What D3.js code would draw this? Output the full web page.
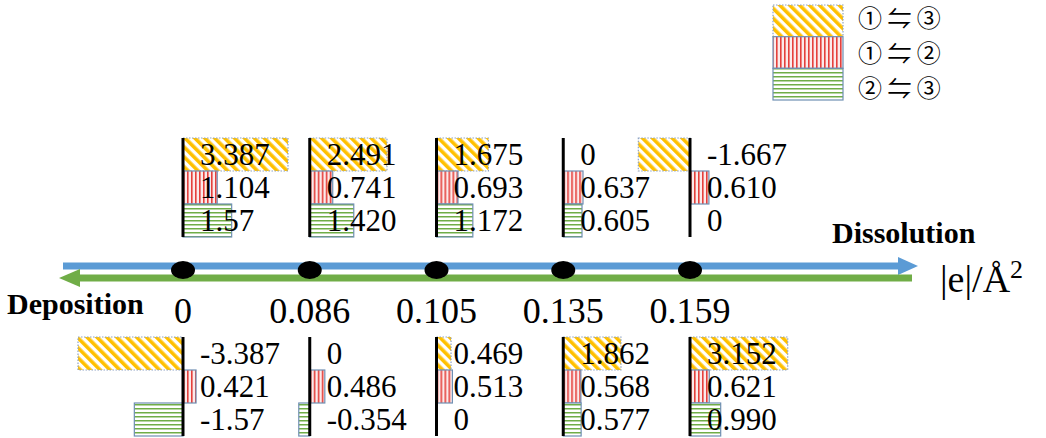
<!DOCTYPE html>
<html lang="en">
<head>
  <meta charset="utf-8" />
  <style>
    body { margin: 0; background: #fff; }
  </style>
</head>
<body>
<div id="container"></div>
<script src="https://cdn.jsdelivr.net/npm/d3@7"></script>
<script>

const width = 1046;
const height = 438;
const serif = '"Liberation Serif", "Times New Roman", serif';

// surface charge density (|e|/Å²) of each case
const densities = ['0', '0.086', '0.105', '0.135', '0.159'];
// the three transitions shown in each mini chart
const transitions = ['①⇋③', '①⇋②', '②⇋③'];

// dissolution side (above the axis)
const dissolution13 = ['3.387', '2.491', '1.675', '0', '-1.667'];
const dissolution12 = ['1.104', '0.741', '0.693', '0.637', '0.610'];
const dissolution23 = ['1.57', '1.420', '1.172', '0.605', '0'];

// deposition side (below the axis)
const deposition13 = ['-3.387', '0', '0.469', '1.862', '3.152'];
const deposition12 = ['0.421', '0.486', '0.513', '0.568', '0.621'];
const deposition23 = ['-1.57', '-0.354', '0', '0.577', '0.990'];

const svg = d3.select('#container')
  .append('svg')
  .attr('width', width)
  .attr('height', height)
  .attr('font-family', serif);

// fill patterns
const defs = svg.append('defs');

const pYellow = defs.append('pattern')
  .attr('id', 'p13')
  .attr('patternUnits', 'userSpaceOnUse')
  .attr('width', 7).attr('height', 7)
  .attr('patternTransform', 'rotate(-45)');
pYellow.append('rect').attr('width', 7).attr('height', 7).attr('fill', '#fff');
pYellow.append('rect').attr('width', 3.6).attr('height', 7).attr('fill', '#FFC000');

const pRed = defs.append('pattern')
  .attr('id', 'p12')
  .attr('patternUnits', 'userSpaceOnUse')
  .attr('width', 4).attr('height', 4);
pRed.append('rect').attr('width', 4).attr('height', 4).attr('fill', '#fbeaea');
pRed.append('rect').attr('width', 1.6).attr('height', 4).attr('fill', '#E5403C');

const pGreen = defs.append('pattern')
  .attr('id', 'p23')
  .attr('patternUnits', 'userSpaceOnUse')
  .attr('width', 4).attr('height', 4);
pGreen.append('rect').attr('width', 4).attr('height', 4).attr('fill', '#fff');
pGreen.append('rect').attr('width', 4).attr('height', 1.5).attr('fill', '#70AD47');

const fills = { '①⇋③': 'url(#p13)', '①⇋②': 'url(#p12)', '②⇋③': 'url(#p23)' };
const strokes = { '①⇋③': '#8ea3c4', '①⇋②': '#6f8fb3', '②⇋③': '#6f8fb3' };
const dashes = { '①⇋③': '1.5,1.5', '①⇋②': null, '②⇋③': null };

// scales
const xPos = d3.scalePoint().domain(densities).range([183, 690]);
const barX = d3.scaleLinear().domain([-4, 4]).range([-124, 124]);
const rowTop = d3.scaleBand().domain(transitions).range([138, 237]);
const rowBottom = d3.scaleBand().domain(transitions).range([337, 436]);

function rows(a, b, c) {
  return densities.map((d, i) => ({
    density: d,
    rows: [
      { key: transitions[0], label: a[i], value: +a[i] },
      { key: transitions[1], label: b[i], value: +b[i] },
      { key: transitions[2], label: c[i], value: +c[i] }
    ]
  }));
}

function drawGroups(data, yBand) {
  const g = svg.append('g')
    .selectAll('g')
    .data(data)
    .join('g')
    .attr('transform', d => `translate(${xPos(d.density)},0)`);

  g.selectAll('rect')
    .data(d => d.rows.filter(r => r.value !== 0))
    .join('rect')
    .attr('x', r => Math.min(barX(0), barX(r.value)))
    .attr('width', r => Math.abs(barX(r.value) - barX(0)))
    .attr('y', r => yBand(r.key))
    .attr('height', yBand.bandwidth())
    .attr('fill', r => fills[r.key])
    .attr('stroke', r => strokes[r.key])
    .attr('stroke-width', 1.2)
    .attr('stroke-dasharray', r => dashes[r.key]);

  g.append('line')
    .attr('x1', 0).attr('x2', 0)
    .attr('y1', yBand.range()[0])
    .attr('y2', yBand.range()[1])
    .attr('stroke', '#000')
    .attr('stroke-width', 3);

  g.selectAll('text')
    .data(d => d.rows)
    .join('text')
    .attr('x', 17)
    .attr('y', r => yBand(r.key) + yBand.bandwidth() / 2 + 10)
    .attr('font-family', serif)
    .attr('font-size', 31)
    .attr('fill', '#000')
    .text(r => r.label);
}

drawGroups(rows(dissolution13, dissolution12, dissolution23), rowTop);
drawGroups(rows(deposition13, deposition12, deposition23), rowBottom);

// dissolution / deposition arrows
svg.append('line')
  .attr('x1', 63).attr('x2', 900)
  .attr('y1', 266).attr('y2', 266)
  .attr('stroke', '#5B9BD5').attr('stroke-width', 7);
svg.append('path')
  .attr('d', 'M898,257 L918,266 L898,275 Z')
  .attr('fill', '#5B9BD5');

svg.append('line')
  .attr('x1', 912).attr('x2', 76)
  .attr('y1', 278).attr('y2', 278)
  .attr('stroke', '#70AD47').attr('stroke-width', 7);
svg.append('path')
  .attr('d', 'M80,269 L59,278 L80,287 Z')
  .attr('fill', '#70AD47');

// points on the axis
svg.append('g')
  .selectAll('ellipse')
  .data(densities)
  .join('ellipse')
  .attr('cx', d => xPos(d))
  .attr('cy', 270)
  .attr('rx', 12)
  .attr('ry', 9)
  .attr('fill', '#000');

svg.append('g')
  .selectAll('text')
  .data(densities)
  .join('text')
  .attr('x', d => xPos(d))
  .attr('y', 323)
  .attr('text-anchor', 'middle')
  .attr('font-family', serif)
  .attr('font-size', 36)
  .text(d => d);

svg.append('text')
  .attr('x', 832).attr('y', 243)
  .attr('font-family', serif)
  .attr('font-size', 30)
  .attr('font-weight', 'bold')
  .text('Dissolution');

svg.append('text')
  .attr('x', 7).attr('y', 314)
  .attr('font-family', serif)
  .attr('font-size', 30)
  .attr('font-weight', 'bold')
  .text('Deposition');

const unit = svg.append('text')
  .attr('x', 940).attr('y', 292)
  .attr('font-family', serif)
  .attr('font-size', 38);
unit.append('tspan').text('|e|/Å');
unit.append('tspan').attr('font-size', 26).attr('dy', -14).text('2');

// legend
const legendRow = d3.scaleBand().domain(transitions).range([5, 100]);
const legend = svg.append('g');

legend.selectAll('rect')
  .data(transitions)
  .join('rect')
  .attr('x', 773)
  .attr('y', d => legendRow(d))
  .attr('width', 70)
  .attr('height', legendRow.bandwidth())
  .attr('fill', d => fills[d])
  .attr('stroke', d => strokes[d])
  .attr('stroke-width', 1.2)
  .attr('stroke-dasharray', d => dashes[d]);

legend.selectAll('text')
  .data(transitions)
  .join('text')
  .attr('x', 858)
  .attr('y', (d, i) => [27, 62, 97][i])
  .attr('font-size', 24)
  .attr('font-family', '"Noto Sans CJK JP", "DejaVu Sans", sans-serif')
  .text(d => d.replace('⇋', ' ⇋ '));

</script>
</body>
</html>
